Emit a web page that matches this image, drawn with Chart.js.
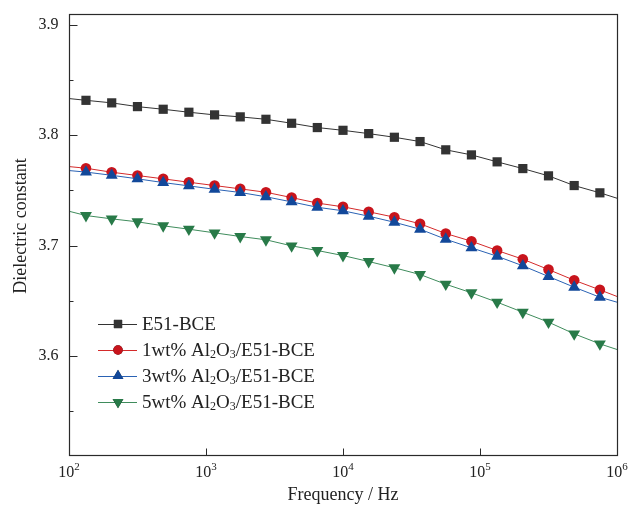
<!DOCTYPE html>
<html>
<head>
<meta charset="utf-8">
<script src="https://cdn.jsdelivr.net/npm/chart.js@4/dist/chart.umd.min.js"></script>
<style>
  body { margin: 0; background: #fff; }
  canvas { display: block; }
</style>
</head>
<body>
<canvas id="dielectricoChart" width="630" height="506"></canvas>
<script>
// Frecuencias (Hz); el primer y el último valor son solo los extremos de la curva
const frecuencias = [100, 133, 205, 316, 487, 750, 1155, 1778, 2738, 4217, 6494, 10000,
    15399, 23714, 36517, 56234, 86596, 133352, 205353, 316228, 486968, 749894, 1000000];

// Constante dieléctrica de cada muestra
const e51 = [3.8333, 3.8317, 3.8294, 3.8260, 3.8236, 3.8209, 3.8185, 3.8167, 3.8145, 3.8109, 3.8070, 3.8045,
    3.8015, 3.7982, 3.7943, 3.7868, 3.7822, 3.7759, 3.7698, 3.7632, 3.7544, 3.7478, 3.7429];
const al1 = [3.7716, 3.7701, 3.7665, 3.7635, 3.7605, 3.7574, 3.7544, 3.7514, 3.7483, 3.7435, 3.7385, 3.7351,
    3.7306, 3.7257, 3.7197, 3.7109, 3.7039, 3.6955, 3.6876, 3.6782, 3.6685, 3.6598, 3.6538];
const al3 = [3.7680, 3.7666, 3.7637, 3.7605, 3.7571, 3.7541, 3.7510, 3.7481, 3.7442, 3.7396, 3.7347, 3.7315,
    3.7266, 3.7211, 3.7148, 3.7057, 3.6979, 3.6903, 3.6816, 3.6719, 3.6622, 3.6531, 3.6486];
const al5 = [3.7311, 3.7272, 3.7242, 3.7215, 3.7179, 3.7148, 3.7115, 3.7082, 3.7052, 3.6997, 3.6955, 3.6909,
    3.6855, 3.6798, 3.6737, 3.6649, 3.6571, 3.6486, 3.6395, 3.6305, 3.6199, 3.6108, 3.6057];

// Ticks de los ejes
const ticksY = [3.6, 3.7, 3.8, 3.9];
const ticksYMenores = [3.55, 3.65, 3.75, 3.85];
const exponentesX = [2, 3, 4, 5, 6];

// Leyenda: texto por partes, 'sub' = subíndice
const nombres = [
    [{ t: 'E51-BCE' }],
    [{ t: '1wt% Al' }, { t: '2', sub: true }, { t: 'O' }, { t: '3', sub: true }, { t: '/E51-BCE' }],
    [{ t: '3wt% Al' }, { t: '2', sub: true }, { t: 'O' }, { t: '3', sub: true }, { t: '/E51-BCE' }],
    [{ t: '5wt% Al' }, { t: '2', sub: true }, { t: 'O' }, { t: '3', sub: true }, { t: '/E51-BCE' }]
];

const FUENTE = '"Liberation Serif", "Times New Roman", serif';

function puntos(serie) {
    return frecuencias.map((f, i) => ({ x: f, y: serie[i] }));
}

// Sin marcador en los extremos de la curva
function radios(r) {
    return frecuencias.map((f, i) => (i === 0 || i === frecuencias.length - 1) ? 0 : r);
}

const estilos = [
    { datos: e51, linea: '#333333', relleno: '#333333', forma: 'rect', radio: 6.5, rot: 0, orden: 4 },
    { datos: al1, linea: '#d42a2a', relleno: '#c8141c', forma: 'circle', radio: 5.3, rot: 0, orden: 3 },
    { datos: al3, linea: '#2a62b4', relleno: '#12489a', forma: 'triangle', radio: 6.9, rot: 0, orden: 2 },
    { datos: al5, linea: '#3f8c5c', relleno: '#287a48', forma: 'triangle', radio: 6.9, rot: 180, orden: 1 }
];

function dibujarTexto(ctx, partes, x, y, tam) {
    let px = x;
    partes.forEach(p => {
        const s = p.sub ? Math.round(tam * 0.62) : tam;
        ctx.font = s + 'px ' + FUENTE;
        ctx.fillText(p.t, px, p.sub ? y + tam * 0.22 : y);
        px += ctx.measureText(p.t).width;
    });
}

// Ejes, ticks hacia dentro, etiquetas y leyenda
const ejesPlugin = {
    id: 'ejes',
    afterDraw(chart) {
        const ctx = chart.ctx;
        const a = chart.chartArea;
        const sx = chart.scales.x;
        const sy = chart.scales.y;
        const L = Math.round(a.left) + 0.5, R = Math.round(a.right) + 0.5;
        const T = Math.round(a.top) + 0.5, B = Math.round(a.bottom) + 0.5;

        ctx.save();
        ctx.strokeStyle = '#2a2a2a';
        ctx.lineWidth = 1.2;
        ctx.strokeRect(L, T, R - L, B - T);

        ctx.lineWidth = 1;
        ctx.beginPath();
        ticksY.forEach(v => {
            const py = Math.round(sy.getPixelForValue(v)) + 0.5;
            ctx.moveTo(L, py); ctx.lineTo(L + 8, py);
        });
        ticksYMenores.forEach(v => {
            const py = Math.round(sy.getPixelForValue(v)) + 0.5;
            ctx.moveTo(L, py); ctx.lineTo(L + 4, py);
        });
        exponentesX.forEach(e => {
            const px = Math.round(sx.getPixelForValue(Math.pow(10, e))) + 0.5;
            ctx.moveTo(px, B); ctx.lineTo(px, B - 7);
        });
        ctx.stroke();

        // Etiquetas del eje Y
        ctx.fillStyle = '#222';
        ctx.font = '16px ' + FUENTE;
        ctx.textAlign = 'right';
        ctx.textBaseline = 'middle';
        ticksY.forEach(v => {
            ctx.fillText(v.toFixed(1), L - 11, sy.getPixelForValue(v));
        });

        // Etiquetas del eje X como potencias de diez
        ctx.textAlign = 'left';
        ctx.textBaseline = 'alphabetic';
        exponentesX.forEach(e => {
            const px = sx.getPixelForValue(Math.pow(10, e));
            ctx.font = '16px ' + FUENTE;
            const wBase = ctx.measureText('10').width;
            ctx.font = '11px ' + FUENTE;
            const wExp = ctx.measureText(String(e)).width;
            const x0 = px - (wBase + wExp) / 2;
            ctx.font = '16px ' + FUENTE;
            ctx.fillText('10', x0, B + 21);
            ctx.font = '11px ' + FUENTE;
            ctx.fillText(String(e), x0 + wBase, B + 14);
        });

        // Títulos de los ejes
        ctx.font = '18px ' + FUENTE;
        ctx.textAlign = 'center';
        ctx.textBaseline = 'middle';
        ctx.fillText('Frequency / Hz', (a.left + a.right) / 2, 495);
        ctx.save();
        ctx.translate(21, 226);
        ctx.rotate(-Math.PI / 2);
        ctx.fillText('Dielectric constant', 0, 0);
        ctx.restore();

        // Leyenda
        const filas = [324, 350, 376, 402];
        ctx.textAlign = 'left';
        ctx.textBaseline = 'middle';
        estilos.forEach((st, i) => {
            const y = filas[i];
            ctx.strokeStyle = st.linea;
            ctx.lineWidth = 1;
            ctx.beginPath();
            ctx.moveTo(98, Math.round(y) + 0.5);
            ctx.lineTo(137, Math.round(y) + 0.5);
            ctx.stroke();
            Chart.helpers.drawPoint(ctx, {
                pointStyle: st.forma, radius: st.radio * 0.9, rotation: st.rot, borderWidth: 0
            }, 118, y);
            ctx.fillStyle = st.relleno;
            ctx.fill();
            ctx.fillStyle = '#222';
            dibujarTexto(ctx, nombres[i], 142, y + 1, 19);
        });
        ctx.restore();
    }
};

const ctxDielectrico = document.getElementById('dielectricoChart').getContext('2d');
window.dielectricoChart = new Chart(ctxDielectrico, {
    type: 'line',
    data: {
        datasets: estilos.map(st => ({
            data: puntos(st.datos),
            borderColor: st.linea,
            borderWidth: 1,
            backgroundColor: st.relleno,
            pointBackgroundColor: st.relleno,
            pointBorderColor: st.relleno,
            pointBorderWidth: 0,
            pointStyle: st.forma,
            pointRotation: st.rot,
            pointRadius: radios(st.radio),
            tension: 0,
            order: st.orden
        }))
    },
    options: {
        responsive: false,
        animation: false,
        layout: { padding: { left: 69, right: 13, top: 14, bottom: 51 } },
        scales: {
            x: { type: 'logarithmic', min: 100, max: 1000000, display: false },
            y: { type: 'linear', min: 3.51, max: 3.91, display: false }
        },
        plugins: {
            legend: { display: false },
            tooltip: { enabled: false }
        }
    },
    plugins: [ejesPlugin]
});
</script>
</body>
</html>
